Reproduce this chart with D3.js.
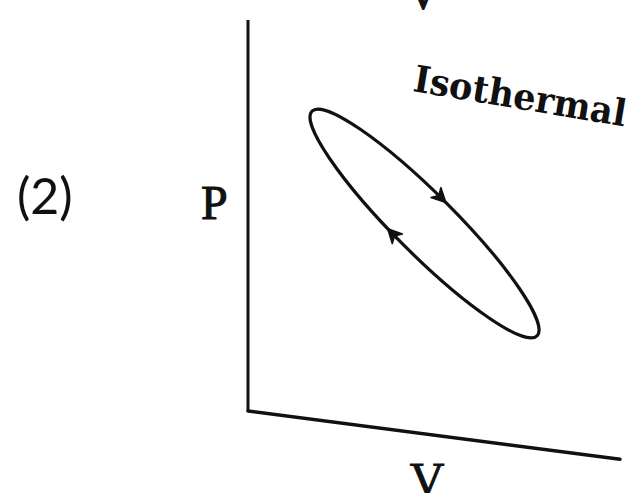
<html>
<head>
  <script src="https://d3js.org/d3.v7.min.js" charset="utf-8"></script>
  <style>
    body { margin: 0; background: #fff; }
    svg { display: block; }
  </style>
</head>
<body>
<div id="graph"></div>
<script>
  // diagram coordinates, V across and P up (0..100 each)
  var yAxisLine = [[0, 100.5], [0, 0]];
  var xAxisLine = [[0, 0], [100, -12.4]];
  var loopEnds = [[17.2, 77.1], [77.7, 19.3]];   // tips of the cycle
  var loopHalfWidth = 30;                          // px, across the loop
  var arrowAngles = [-91, 97];                     // where the arrows sit on the loop
  var labels = ["(2)", "P", "V", "Isothermal"];

  var w = 635, h = 493;

  var x = d3.scaleLinear().domain([0, 100]).range([248, 620]);
  var y = d3.scaleLinear().domain([0, 100]).range([411, 22]);

  var svg = d3.select("#graph").append("svg")
    .attr("width", w)
    .attr("height", h);

  var ink = "#111";

  var line = d3.line()
    .x(function(d) { return x(d[0]); })
    .y(function(d) { return y(d[1]); });

  svg.append("path").attr("d", line(yAxisLine))
    .attr("fill", "none").attr("stroke", ink).attr("stroke-width", 3);
  svg.append("path").attr("d", line(xAxisLine))
    .attr("fill", "none").attr("stroke", ink).attr("stroke-width", 3.4)
    .attr("stroke-linecap", "round");

  // the cycle
  var p0 = [x(loopEnds[0][0]), y(loopEnds[0][1])];
  var p1 = [x(loopEnds[1][0]), y(loopEnds[1][1])];
  var cx = (p0[0] + p1[0]) / 2, cy = (p0[1] + p1[1]) / 2;
  var rx = Math.hypot(p1[0] - p0[0], p1[1] - p0[1]) / 2;
  var ry = loopHalfWidth;
  var rot = Math.atan2(p1[1] - p0[1], p1[0] - p0[0]) * 180 / Math.PI;

  var loop = svg.append("g")
    .attr("transform", "translate(" + cx + "," + cy + ") rotate(" + rot + ")");

  loop.append("ellipse")
    .attr("rx", rx).attr("ry", ry)
    .attr("fill", "none").attr("stroke", ink).attr("stroke-width", 3.2);

  loop.selectAll(".arrow")
    .data(arrowAngles)
    .enter()
    .append("path")
    .attr("class", "arrow")
    .attr("transform", function(d) {
      var t = d * Math.PI / 180;
      var px = rx * Math.cos(t), py = ry * Math.sin(t);
      var dir = Math.atan2(ry * Math.cos(t), -rx * Math.sin(t)) * 180 / Math.PI;
      return "translate(" + px + "," + py + ") rotate(" + dir + ")";
    })
    .attr("d", "M3,0 L-11,-7 L-7,0 L-11,7 Z")
    .attr("fill", ink).attr("stroke", ink).attr("stroke-width", 1.5)
    .attr("stroke-linejoin", "round");

  // labels
  svg.append("text")
    .attr("x", 17).attr("y", 214)
    .attr("font-family", "Lato, 'Open Sans', sans-serif")
    .attr("font-size", 50)
    .attr("fill", ink)
    .text(labels[0]);

  svg.append("text")
    .attr("x", 201).attr("y", 219)
    .attr("font-family", "'Liberation Serif', serif")
    .attr("font-size", 48)
    .attr("fill", ink).attr("stroke", ink).attr("stroke-width", 1)
    .text(labels[1]);

  svg.append("text")
    .attr("x", 427).attr("y", 496)
    .attr("text-anchor", "middle")
    .attr("font-family", "'Liberation Serif', serif")
    .attr("font-size", 48)
    .attr("fill", ink).attr("stroke", ink).attr("stroke-width", 1)
    .text(labels[2]);

  // cut-off label from the panel above
  svg.append("text")
    .attr("x", 423).attr("y", 9)
    .attr("text-anchor", "middle")
    .attr("font-family", "'Liberation Serif', serif")
    .attr("font-size", 48)
    .attr("fill", ink).attr("stroke", ink).attr("stroke-width", 1)
    .text(labels[2]);

  svg.append("text")
    .attr("transform", "translate(412,91) rotate(9.5)")
    .attr("font-family", "'DejaVu Serif', serif")
    .attr("font-weight", "bold")
    .attr("font-size", 37)
    .attr("fill", ink)
    .attr("textLength", 215)
    .attr("lengthAdjust", "spacingAndGlyphs")
    .text(labels[3]);
</script>
</body>
</html>
